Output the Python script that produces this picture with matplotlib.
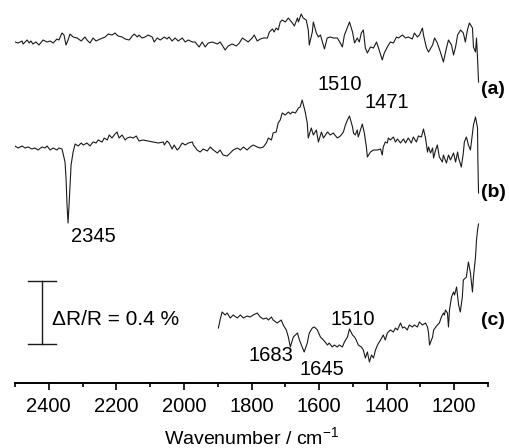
import matplotlib
matplotlib.use("Agg")
import matplotlib.pyplot as plt
from matplotlib.ticker import MultipleLocator

plt.rcParams['font.family'] = ['Liberation Sans', 'DejaVu Sans']

# Trace (a): wavenumber (cm-1) and signal (a.u., offset trace)
wn_a = [2500, 2491, 2479, 2476, 2464, 2458, 2453, 2447, 2438, 2429, 2417, 2405, 2396, 2387, 2376, 2370,
        2361, 2355, 2349, 2343, 2337, 2328, 2316, 2304, 2293, 2287, 2278, 2269, 2260, 2248, 2233, 2224,
        2213, 2204, 2195, 2183, 2174, 2162, 2153, 2147, 2138, 2133, 2124, 2115, 2106, 2094, 2088, 2079,
        2070, 2058, 2050, 2044, 2035, 2026, 2017, 2005, 1996, 1987, 1975, 1967, 1955, 1946, 1937, 1928,
        1916, 1901, 1893, 1887, 1878, 1869, 1857, 1845, 1836, 1827, 1818, 1810, 1798, 1792, 1783, 1774,
        1765, 1753, 1747, 1738, 1733, 1727, 1721, 1715, 1709, 1700, 1691, 1679, 1673, 1664, 1661, 1653,
        1647, 1638, 1632, 1629, 1620, 1617, 1608, 1602, 1596, 1590, 1584, 1576, 1567, 1558, 1546, 1537,
        1531, 1525, 1519, 1510, 1501, 1495, 1487, 1481, 1475, 1469, 1463, 1457, 1448, 1439, 1430, 1424,
        1413, 1407, 1398, 1389, 1380, 1371, 1365, 1353, 1344, 1336, 1324, 1318, 1309, 1303, 1294, 1291,
        1282, 1276, 1264, 1258, 1250, 1241, 1232, 1223, 1217, 1208, 1202, 1196, 1190, 1181, 1173, 1167,
        1161, 1155, 1146, 1143, 1137, 1134, 1131, 1128]
sig_a = [341, 340, 342, 339, 343, 340, 342, 339, 341, 338, 343, 341, 342, 340, 344, 343,
         350, 348, 338, 343, 349, 346, 345, 342, 346, 343, 340, 345, 342, 344, 346, 349,
         348, 350, 347, 346, 344, 343, 347, 349, 346, 348, 345, 346, 348, 346, 341, 345,
         343, 346, 344, 346, 342, 345, 342, 345, 341, 343, 341, 341, 336, 341, 336, 340,
         341, 339, 341, 338, 333, 337, 339, 337, 340, 345, 343, 341, 345, 348, 342, 344,
         345, 345, 351, 354, 351, 355, 353, 361, 363, 361, 365, 360, 357, 365, 361, 369,
         365, 363, 353, 338, 351, 361, 350, 346, 348, 341, 334, 345, 346, 345, 345, 340,
         336, 348, 353, 361, 351, 340, 345, 341, 350, 353, 335, 330, 336, 335, 341, 335,
         323, 330, 336, 341, 340, 346, 345, 348, 345, 346, 344, 350, 346, 348, 355, 348,
         335, 331, 338, 345, 340, 331, 321, 335, 343, 338, 328, 336, 348, 353, 350, 341,
         353, 360, 355, 336, 331, 345, 325, 301]

# Trace (b)
wn_b = [2500, 2491, 2479, 2470, 2461, 2450, 2441, 2432, 2420, 2411, 2405, 2396, 2387, 2376, 2370, 2361,
        2358, 2352, 2349, 2346, 2343, 2340, 2337, 2334, 2328, 2322, 2313, 2304, 2298, 2287, 2278, 2269,
        2260, 2254, 2242, 2236, 2227, 2221, 2213, 2204, 2198, 2192, 2183, 2174, 2168, 2159, 2150, 2141,
        2133, 2121, 2106, 2091, 2076, 2061, 2058, 2050, 2044, 2035, 2029, 2020, 2014, 2005, 1996, 1987,
        1975, 1972, 1961, 1952, 1943, 1931, 1922, 1913, 1901, 1893, 1884, 1872, 1863, 1854, 1842, 1833,
        1824, 1813, 1804, 1795, 1783, 1774, 1765, 1756, 1750, 1741, 1736, 1727, 1721, 1715, 1709, 1700,
        1691, 1685, 1679, 1670, 1661, 1656, 1650, 1641, 1635, 1632, 1623, 1617, 1608, 1602, 1593, 1587,
        1575, 1567, 1558, 1546, 1537, 1528, 1522, 1516, 1510, 1501, 1498, 1493, 1487, 1484, 1475, 1472,
        1466, 1460, 1457, 1448, 1439, 1427, 1418, 1413, 1410, 1404, 1398, 1395, 1389, 1380, 1374, 1368,
        1359, 1350, 1344, 1336, 1327, 1321, 1312, 1306, 1297, 1291, 1285, 1279, 1276, 1270, 1264, 1261,
        1255, 1250, 1244, 1235, 1232, 1223, 1217, 1211, 1202, 1196, 1190, 1187, 1179, 1173, 1170, 1164,
        1158, 1152, 1146, 1143, 1137, 1131, 1130, 1128]
sig_b = [237, 235, 237, 235, 236, 234, 235, 233, 236, 235, 237, 233, 235, 233, 235, 234,
         230, 221, 205, 178, 160, 178, 198, 218, 231, 239, 237, 240, 238, 240, 237, 241,
         240, 243, 241, 245, 243, 248, 245, 249, 251, 245, 248, 243, 245, 246, 245, 247,
         242, 243, 242, 241, 240, 241, 238, 242, 240, 234, 238, 233, 235, 240, 238, 240,
         241, 238, 233, 231, 234, 232, 236, 233, 230, 233, 228, 227, 230, 233, 235, 233,
         236, 233, 236, 238, 236, 235, 236, 240, 245, 243, 250, 251, 260, 263, 270, 268,
         271, 269, 271, 270, 275, 276, 283, 271, 260, 245, 255, 248, 253, 241, 251, 245,
         251, 248, 250, 245, 247, 251, 258, 263, 267, 256, 250, 248, 253, 246, 256, 259,
         250, 236, 226, 231, 233, 233, 234, 228, 236, 241, 240, 245, 243, 246, 241, 244,
         240, 244, 240, 245, 240, 246, 241, 247, 246, 254, 245, 231, 236, 230, 235, 225,
         233, 238, 226, 221, 228, 220, 228, 223, 230, 221, 231, 225, 216, 230, 241, 246,
         238, 233, 250, 258, 266, 255, 223, 190]

# Trace (c)
wn_c = [1898, 1893, 1887, 1878, 1872, 1863, 1854, 1842, 1833, 1824, 1813, 1804, 1795, 1783, 1774, 1765,
        1756, 1750, 1741, 1736, 1724, 1712, 1706, 1697, 1691, 1685, 1679, 1676, 1664, 1658, 1650, 1644,
        1635, 1629, 1620, 1614, 1605, 1596, 1587, 1575, 1570, 1561, 1555, 1546, 1540, 1531, 1525, 1516,
        1510, 1501, 1495, 1490, 1484, 1475, 1469, 1463, 1457, 1451, 1445, 1439, 1433, 1427, 1418, 1410,
        1404, 1398, 1389, 1380, 1374, 1368, 1359, 1353, 1347, 1339, 1333, 1324, 1318, 1309, 1303, 1294,
        1285, 1279, 1276, 1273, 1264, 1261, 1250, 1244, 1238, 1232, 1229, 1226, 1220, 1217, 1214, 1208,
        1202, 1199, 1193, 1187, 1182, 1176, 1173, 1164, 1158, 1152, 1146, 1143, 1137, 1134, 1131, 1128]
sig_c = [55, 63, 71, 68, 70, 65, 68, 65, 68, 65, 67, 66, 68, 70, 66, 64,
         65, 63, 66, 63, 60, 63, 58, 53, 46, 36, 43, 46, 50, 43, 36, 31,
         40, 50, 55, 56, 53, 46, 43, 38, 40, 36, 38, 36, 38, 36, 41, 46,
         54, 48, 46, 43, 38, 36, 33, 25, 31, 21, 28, 25, 33, 38, 43, 48,
         43, 50, 53, 51, 55, 53, 60, 55, 56, 53, 58, 56, 58, 56, 61, 58,
         60, 56, 50, 38, 46, 53, 58, 60, 66, 70, 68, 73, 70, 56, 73, 86,
         91, 88, 96, 78, 71, 86, 103, 106, 121, 110, 91, 106, 126, 143, 153, 159]

# Scale bar: Delta R/R = 0.4 %  (in signal units)
bar_wn = 2420
bar_lo, bar_hi = 39, 102
cap_wn = (2461, 2378)

peak_labels = [("1510", 1538, 298), ("1471", 1399, 280.5), ("2345", 2269, 146.5),
               ("1683", 1741, 28), ("1645", 1592, 13.5), ("1510", 1500, 63.5)]
trace_labels = [("(a)", 1122, 294), ("(b)", 1122, 191), ("(c)", 1122, 63)]

FS = 14.5

fig = plt.figure(figsize=(5.10, 4.48), dpi=100)
ax = fig.add_axes([15/510, 1 - 383/448, (488 - 15)/510, 383/448])
ax.set_xlim(2500, 1100)
ax.set_ylim(0, 383)

lc = '#1a1a1a'
for wn, sig in ((wn_a, sig_a), (wn_b, sig_b), (wn_c, sig_c)):
    ax.plot(wn, sig, color=lc, lw=0.8)

# scale bar
ax.plot([bar_wn, bar_wn], [bar_lo, bar_hi], color=lc, lw=1.0)
ax.plot(cap_wn, [bar_lo, bar_lo], color=lc, lw=1.0)
ax.plot(cap_wn, [bar_hi, bar_hi], color=lc, lw=1.0)
ax.text(2390, 64, "\u0394R/R = 0.4 %", fontsize=FS + 0.5, ha='left', va='center')

for t, x, y in peak_labels:
    ax.text(x, y, t, fontsize=FS, ha='center', va='center')
for t, x, y in trace_labels:
    ax.text(x, y, t, fontsize=14, ha='left', va='center', fontweight='bold', clip_on=False)

for s in ('left', 'right', 'top'):
    ax.spines[s].set_visible(False)
ax.spines['bottom'].set_linewidth(1.4)
ax.set_yticks([])
ax.xaxis.set_major_locator(MultipleLocator(200))
ax.xaxis.set_minor_locator(MultipleLocator(100))
ax.tick_params(axis='x', which='major', length=5, width=1.2, pad=5, labelsize=FS)
ax.tick_params(axis='x', which='minor', length=3, width=1.2)
ax.set_xlabel("Wavenumber / cm$^{\\mathregular{-1}}$", fontsize=14, labelpad=7.5)

fig.savefig("out.png", dpi=100)
